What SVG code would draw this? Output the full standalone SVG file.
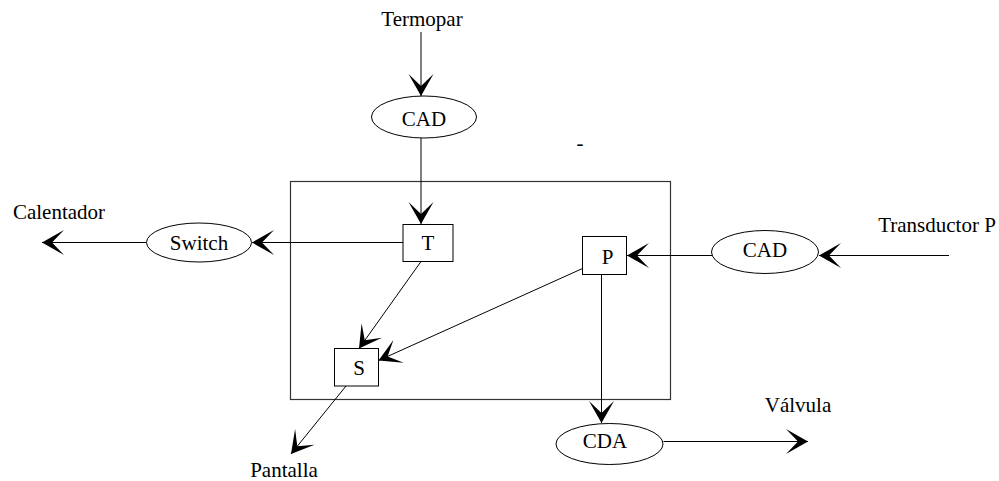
<svg xmlns="http://www.w3.org/2000/svg" width="999" height="481" viewBox="0 0 999 481">
  <defs>
    <marker id="arrow" markerUnits="userSpaceOnUse" markerWidth="26" markerHeight="28" viewBox="-24 -14 26 28" refX="0" refY="0" orient="auto">
      <path d="M0,0 L-22,-12.5 L-10,0 L-22,12.5 Z" fill="#000"/>
    </marker>
    <style>
      .node rect, .node ellipse { fill: #fff; stroke: #000; stroke-width: 1; }
      .frame { fill: none; stroke: #333; stroke-width: 1.2; }
      .edge { stroke: #000; stroke-width: 1; fill: none; marker-end: url(#arrow); }
      text { font-family: "Liberation Serif", "Times New Roman", serif; font-size: 21px; fill: #000; text-anchor: middle; }
    </style>
  </defs>
  <rect width="999" height="481" fill="#fff"/>

  <!-- controller enclosure -->
  <rect class="frame" x="290.5" y="181.5" width="380" height="218"/>

  <!-- connectors -->
  <g id="connectors">
    <line class="edge" x1="421" y1="32" x2="421" y2="96"/>
    <line class="edge" x1="421" y1="138" x2="421" y2="224"/>
    <line class="edge" x1="403" y1="242.5" x2="252" y2="242.5"/>
    <line class="edge" x1="146.5" y1="242.5" x2="42" y2="242.5"/>
    <line class="edge" x1="949" y1="255.5" x2="819" y2="255.5"/>
    <line class="edge" x1="712" y1="255.5" x2="627" y2="255.5"/>
    <line class="edge" x1="421" y1="261.5" x2="359" y2="348.5"/>
    <line class="edge" x1="582.5" y1="268.5" x2="378.5" y2="360.5"/>
    <line class="edge" x1="601.5" y1="274.5" x2="601.5" y2="423"/>
    <line class="edge" x1="663.5" y1="441.5" x2="808" y2="441.5"/>
    <line class="edge" x1="346" y1="386" x2="291" y2="454"/>
  </g>

  <!-- nodes -->
  <g id="cad-termopar" class="node">
    <ellipse cx="424" cy="117" rx="52.5" ry="21"/>
    <text x="424" y="126">CAD</text>
  </g>
  <g id="switch" class="node">
    <ellipse cx="199" cy="242.5" rx="52.5" ry="19.5"/>
    <text x="199" y="250">Switch</text>
  </g>
  <g id="cad-transductor" class="node">
    <ellipse cx="765" cy="252" rx="53.5" ry="21.5"/>
    <text x="765" y="257">CAD</text>
  </g>
  <g id="cda" class="node">
    <ellipse cx="609.5" cy="444" rx="53.5" ry="20.5"/>
    <text x="605" y="448">CDA</text>
  </g>
  <g id="t" class="node">
    <rect x="403" y="224.5" width="50" height="37"/>
    <text x="428" y="250">T</text>
  </g>
  <g id="p" class="node">
    <rect x="582.5" y="236.5" width="44" height="38"/>
    <text x="607.5" y="264">P</text>
  </g>
  <g id="s" class="node">
    <rect x="334.5" y="348.5" width="44" height="37.5"/>
    <text x="359" y="375">S</text>
  </g>

  <!-- external signal labels -->
  <g id="labels">
    <text x="422" y="26">Termopar</text>
    <text x="59" y="219">Calentador</text>
    <text x="937" y="232">Transductor P</text>
    <text x="798" y="412">Válvula</text>
    <text x="284" y="477">Pantalla</text>
    <text x="580" y="150">-</text>
  </g>
</svg>
